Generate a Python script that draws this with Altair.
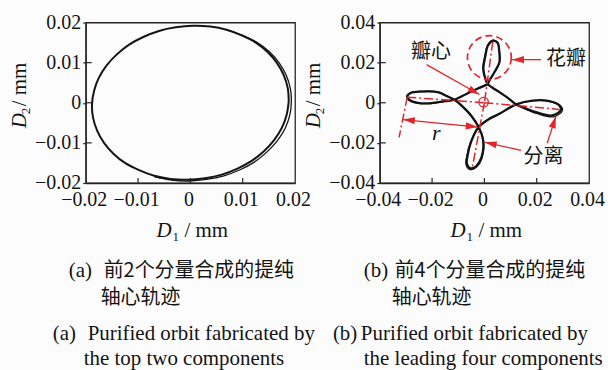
import math
import altair as alt
import pandas as pd

# ---------------- data (D1, D2 in mm) ----------------
# (a) orbit synthesised from the two leading components
ell_x = [0.0188, 0.0186, 0.0178, 0.0165, 0.0147, 0.0125, 0.0098, 0.0069, 0.0038, 0.0005,
         -0.0028, -0.0060, -0.0090, -0.0117, -0.0141, -0.0160, -0.0175, -0.0184, -0.0188,
         -0.0186, -0.0178, -0.0165, -0.0147, -0.0125, -0.0098, -0.0069, -0.0038, -0.0005,
         0.0028, 0.0060, 0.0090, 0.0117, 0.0141, 0.0160, 0.0175, 0.0184, 0.0188]
ell_y = [0.0004, 0.0037, 0.0070, 0.0100, 0.0127, 0.0150, 0.0168, 0.0182, 0.0190, 0.0192,
         0.0188, 0.0179, 0.0164, 0.0145, 0.0120, 0.0093, 0.0062, 0.0030, -0.0004,
         -0.0037, -0.0070, -0.0100, -0.0127, -0.0150, -0.0168, -0.0182, -0.0190, -0.0192,
         -0.0188, -0.0179, -0.0164, -0.0145, -0.0120, -0.0093, -0.0062, -0.0030, 0.0004]
# a later revolution drifting outward on the right-hand side
ell2_x = [-0.0068, -0.0036, -0.0002, 0.0031, 0.0064, 0.0095, 0.0122, 0.0146, 0.0166, 0.0181,
          0.0190, 0.0193, 0.0191, 0.0183, 0.0170, 0.0151, 0.0128, 0.0100, 0.0070]
ell2_y = [-0.0185, -0.0193, -0.0195, -0.0191, -0.0182, -0.0167, -0.0148, -0.0123, -0.0095, -0.0064,
          -0.0031, 0.0003, 0.0036, 0.0069, 0.0099, 0.0127, 0.0150, 0.0168, 0.0182]

# (b) orbit synthesised from the four leading components (four petals)
flo_x = [0.0013, -0.0027, -0.0069, -0.0114, -0.0152, -0.0203, -0.0255, -0.0286, -0.0295, -0.0282,
         -0.0241, -0.0178, -0.0140, -0.0114, -0.0084, -0.0051, -0.0022, -0.0006, -0.0006, -0.0019,
         -0.0038, -0.0055, -0.0067, -0.0064, -0.0051, -0.0022, 0.0015, 0.0057, 0.0121, 0.0184,
         0.0248, 0.0286, 0.0292, 0.0260, 0.0197, 0.0152, 0.0121, 0.0088, 0.0057, 0.0030,
         0.0013, 0.0004, -0.0004, 0.0004, 0.0013, 0.0032, 0.0050, 0.0057, 0.0057, 0.0038,
         0.0019, 0.0013]
flo_y = [0.0093, 0.0070, 0.0044, 0.0015, 0.0008, -0.0002, 0.0000, 0.0014, 0.0031, 0.0049,
         0.0056, 0.0053, 0.0031, 0.0015, -0.0018, -0.0063, -0.0121, -0.0179, -0.0245, -0.0295,
         -0.0323, -0.0326, -0.0303, -0.0261, -0.0195, -0.0121, -0.0083, -0.0055, -0.0008, 0.0011,
         0.0008, -0.0013, -0.0035, -0.0063, -0.0047, -0.0025, -0.0008, 0.0026, 0.0053, 0.0076,
         0.0093, 0.0119, 0.0169, 0.0235, 0.0284, 0.0309, 0.0299, 0.0251, 0.0201, 0.0152,
         0.0111, 0.0093]
flo2_x = [0.0013, -0.0028, -0.0070, -0.0115, -0.0153, -0.0205, -0.0257, -0.0288, -0.0297, -0.0284,
          -0.0242, -0.0179, -0.0141, -0.0115, -0.0085, -0.0052, -0.0023, -0.0004, -0.0004, -0.0018,
          -0.0040, -0.0059, -0.0071, -0.0067, -0.0053, -0.0023, 0.0014, 0.0056, 0.0121, 0.0186,
          0.0252, 0.0292, 0.0298, 0.0264, 0.0199, 0.0152, 0.0121, 0.0088, 0.0057, 0.0030,
          0.0013, 0.0003, -0.0006, 0.0002, 0.0012, 0.0032, 0.0051, 0.0058, 0.0058, 0.0039,
          0.0019, 0.0013]
flo2_y = [0.0093, 0.0069, 0.0043, 0.0014, 0.0006, -0.0004, -0.0002, 0.0012, 0.0030, 0.0049,
          0.0057, 0.0054, 0.0031, 0.0014, -0.0019, -0.0065, -0.0123, -0.0182, -0.0250, -0.0302,
          -0.0330, -0.0331, -0.0306, -0.0262, -0.0196, -0.0123, -0.0085, -0.0057, -0.0010, 0.0010,
          0.0006, -0.0016, -0.0040, -0.0070, -0.0053, -0.0029, -0.0010, 0.0025, 0.0052, 0.0075,
          0.0093, 0.0120, 0.0170, 0.0237, 0.0287, 0.0312, 0.0301, 0.0252, 0.0200, 0.0151,
          0.0110, 0.0093]

ticks_a = [-0.02, -0.01, 0.0, 0.01, 0.02]
ticks_b = [-0.04, -0.02, 0.0, 0.02, 0.04]
inner_a = [-0.01, 0.0, 0.01]
inner_b = [-0.02, 0.0, 0.02]

# construction lines of (b): petal axes and the radius guide
guide_x1 = [-0.0295, 0.0, 0.0032, 0.0, -0.0295]
guide_y1 = [0.0028, 0.0, 0.0304, 0.0, 0.0028]
guide_x2 = [0.0, 0.0286, 0.0, -0.0046, -0.0326]
guide_y2 = [0.0, -0.0033, 0.0, -0.0321, -0.0172]

# callout arrows of (b)
arrow_x1 = [0.0216, -0.0221, 0.0240, 0.0140, -0.0026]
arrow_y1 = [0.0215, 0.0190, -0.0202, -0.0237, -0.0121]
arrow_x2 = [0.0106, -0.0019, 0.0273, 0.0002, -0.0311]
arrow_y2 = [0.0215, 0.0041, -0.0068, -0.0197, -0.0084]
arrow_both = [False, False, False, False, True]

ring_x, ring_y = [0.0019], [0.0225]
centre_x, centre_y = [-0.0003], [0.0003]

note_text = ["瓣心", "花瓣", "分离"]
note_x = [-0.0204, 0.0312, 0.0226]
note_y = [0.0252, 0.0220, -0.0270]
r_x, r_y = [-0.0184], [-0.0151]

# ---------------- style ----------------
BG = "#fcfcfc"
INK = "#141414"
FRAME = "#262626"
RED = "#e0262b"
SERIF = "Liberation Serif"
CJK = "Noto Sans CJK SC"
W, H = 210, 161
LBL = "datum.value == 0 ? '0' : format(datum.value, '.2f')"
ONE = pd.DataFrame({"k": [0]})


def word(text, x, y, font=SERIF, size=20, style="normal", angle=0,
         align="left", baseline="alphabetic", color=INK):
    return alt.Chart(ONE).mark_text(
        font=font, fontSize=size, fontStyle=style, angle=angle,
        align=align, baseline=baseline, color=color,
    ).encode(x=alt.value(x), y=alt.value(y), text=alt.value(text))


def axis_titles():
    return [
        word("D", 71, 215, size=21, style="italic"),
        word("1", 87, 219, size=13),
        word("/ mm", 99, 215, size=21),
        word("D", -60, 106, size=21, style="italic", angle=270),
        word("2", -56, 92, size=13, angle=270),
        word("/ mm", -60, 84, size=21, angle=270),
    ]


def panel(ticks, inner, curves, extras):
    dom = [ticks[0], ticks[-1]]
    sx = alt.Scale(domain=dom, nice=False, zero=False)
    sy = alt.Scale(domain=dom, nice=False, zero=False)
    ax = alt.Axis(values=ticks, title=None, grid=False, ticks=False, tickSize=0,
                  labelPadding=7, labelOffset=-2, labelExpr=LBL, labelFlush=False,
                  labelOverlap=False, domainColor=FRAME, domainWidth=1.3)
    ay = alt.Axis(values=ticks, title=None, grid=False, ticks=True, tickSize=3,
                  tickColor=FRAME, tickWidth=1.2, labelPadding=2, labelExpr=LBL,
                  labelFlush=False, labelOverlap=False, domainColor=FRAME, domainWidth=1.3)
    X = lambda f: alt.X(f, scale=sx, axis=ax)
    Y = lambda f: alt.Y(f, scale=sy, axis=ay)
    layers = []
    for xs, ys, w in curves:
        df = pd.DataFrame({"x": xs, "y": ys, "i": range(len(xs))})
        layers.append(
            alt.Chart(df).mark_line(interpolate="catmull-rom", color=INK, strokeWidth=w,
                                    strokeJoin="round", strokeCap="round").encode(
                x=X("x:Q"), y=Y("y:Q"), order="i:Q")
        )
    tk = pd.DataFrame({"v": inner})
    layers.append(alt.Chart(tk).mark_rule(color=FRAME, strokeWidth=1.2).encode(
        y=Y("v:Q"), x=alt.value(0), x2=alt.value(6)))
    layers.append(alt.Chart(tk).mark_rule(color=FRAME, strokeWidth=1.2).encode(
        x=X("v:Q"), y=alt.value(H), y2=alt.value(H - 5)))
    for build in extras:
        layers.extend(build(X, Y))
    layers.extend(axis_titles())
    return alt.layer(*layers).properties(width=W, height=H)


def caption(tag, cn_x, first, cap_x, en1, en2_x, en2, tag_x, en1_x):
    return [
        word(tag, tag_x, 255, size=21),
        word(first, cn_x, 255, font=CJK, size=20),
        word("轴心轨迹", cn_x - 3, 282, font=CJK, size=20),
        word(tag, cap_x, 319, size=21),
        word(en1, en1_x, 319, size=21),
        word(en2, en2_x, 344, size=21),
    ]


def canvas_extent(X, Y):
    # invisible diagonal that fixes the overall drawing extent
    return [alt.Chart(ONE).mark_rule(color=BG, strokeWidth=0.1).encode(
        x=alt.value(-85), x2=alt.value(523), y=alt.value(-21), y2=alt.value(349))]


def caption_a(X, Y):
    return caption("(a)", 18, "前2个分量合成的提纯", -33, "Purified orbit fabricated by",
                   -2, "the top two components", -17, 2)


def caption_b(X, Y):
    return caption("(b)", 15, "前4个分量合成的提纯", -47, "Purified orbit fabricated by",
                   -16, "the leading four components", -16, -19)


def callouts(X, Y):
    kx, ky = W / 0.08, H / 0.08

    def heading(x1, y1, x2, y2):
        return math.degrees(math.atan2((x2 - x1) * kx, (y2 - y1) * ky)) % 360

    guides = pd.DataFrame({"x": guide_x1, "y": guide_y1, "x2": guide_x2, "y2": guide_y2})
    arrows = pd.DataFrame({"x": arrow_x1, "y": arrow_y1, "x2": arrow_x2, "y2": arrow_y2})
    hx, hy, ha = [], [], []
    for x1, y1, x2, y2, both in zip(arrow_x1, arrow_y1, arrow_x2, arrow_y2, arrow_both):
        hx.append(x2); hy.append(y2); ha.append(heading(x1, y1, x2, y2))
        if both:
            hx.append(x1); hy.append(y1); ha.append(heading(x2, y2, x1, y1))
    heads = pd.DataFrame({"x": hx, "y": hy, "a": ha})

    return [
        alt.Chart(guides).mark_rule(color=RED, strokeWidth=1.5, strokeDash=[9, 3, 2, 3]).encode(
            x=X("x:Q"), y=Y("y:Q"), x2="x2:Q", y2="y2:Q"),
        alt.Chart(arrows).mark_rule(color=RED, strokeWidth=1.3).encode(
            x=X("x:Q"), y=Y("y:Q"), x2="x2:Q", y2="y2:Q"),
        alt.Chart(heads).mark_point(shape="M0,0L0.3,1L-0.3,1Z", filled=True, color=RED,
                                    size=560, opacity=1).encode(
            x=X("x:Q"), y=Y("y:Q"), angle=alt.Angle("a:Q", scale=None)),
        alt.Chart(pd.DataFrame({"x": ring_x, "y": ring_y})).mark_point(
            shape="circle", filled=False, color=RED, size=1936, strokeWidth=1.7,
            strokeDash=[7, 4], opacity=1).encode(x=X("x:Q"), y=Y("y:Q")),
        alt.Chart(pd.DataFrame({"x": centre_x, "y": centre_y})).mark_point(
            shape="circle", filled=False, color=RED, size=90, strokeWidth=1.3,
            opacity=1).encode(x=X("x:Q"), y=Y("y:Q")),
        alt.Chart(pd.DataFrame({"t": note_text, "x": note_x, "y": note_y})).mark_text(
            font=CJK, fontSize=20, color=INK, align="center", baseline="middle").encode(
            x=X("x:Q"), y=Y("y:Q"), text="t:N"),
        alt.Chart(pd.DataFrame({"x": r_x, "y": r_y})).mark_text(
            font=SERIF, fontSize=22, fontStyle="italic", color=INK, align="center",
            baseline="middle").encode(x=X("x:Q"), y=Y("y:Q"), text=alt.value("r")),
    ]


left = panel(ticks_a, inner_a,
             [(ell_x, ell_y, 2.0), (ell2_x, ell2_y, 1.3)],
             [canvas_extent, caption_a])
right = panel(ticks_b, inner_b,
              [(flo_x, flo_y, 2.3), (flo2_x, flo2_y, 1.2)],
              [callouts, caption_b])

chart = alt.hconcat(left, right, spacing=85, bounds="flush").properties(
    padding=0, background=BG
).configure_view(stroke=FRAME, strokeWidth=1.3).configure_axis(
    labelFont=SERIF, labelFontSize=20, labelColor=INK
)

chart.save("out.html", embed_options={"renderer": "svg", "actions": False})
